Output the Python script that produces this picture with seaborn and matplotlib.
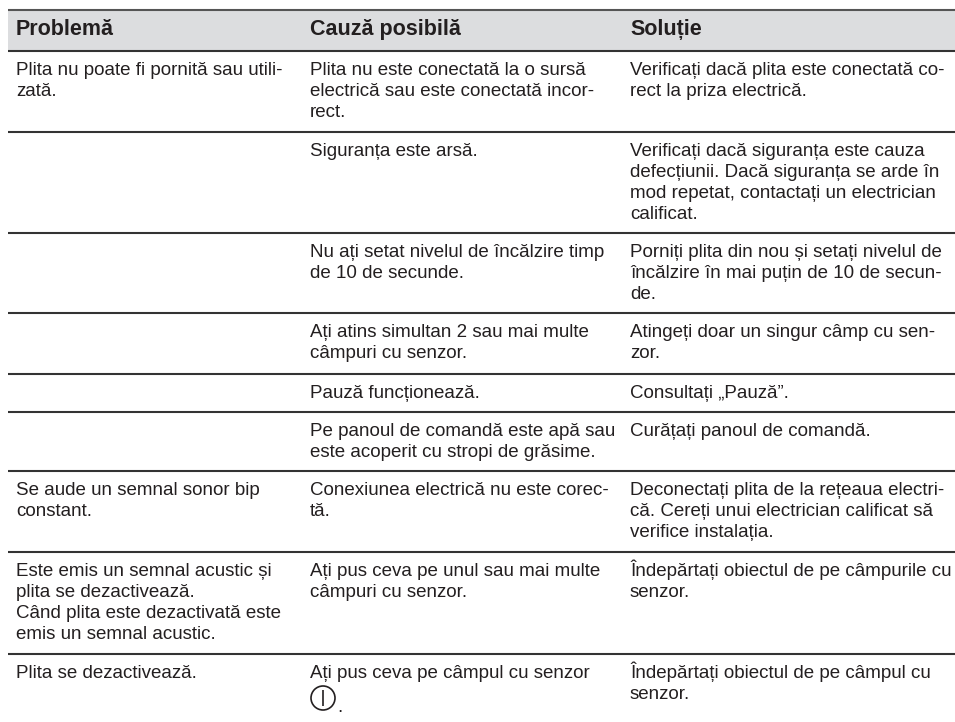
"""Tabel depanare plita"""
import matplotlib.pyplot as plt
from matplotlib.patches import Circle
import seaborn as sns

headers = ["Problemă", "Cauză posibilă", "Soluție"]

problems = [
    ["Plita nu poate fi pornită sau utili-", "zată."],
    [],
    [],
    [],
    [],
    [],
    ["Se aude un semnal sonor bip", "constant."],
    [
        "Este emis un semnal acustic și",
        "plita se dezactivează.",
        "Când plita este dezactivată este",
        "emis un semnal acustic.",
    ],
    ["Plita se dezactivează."],
]
causes = [
    ["Plita nu este conectată la o sursă", "electrică sau este conectată incor-", "rect."],
    ["Siguranța este arsă."],
    ["Nu ați setat nivelul de încălzire timp", "de 10 de secunde."],
    ["Ați atins simultan 2 sau mai multe", "câmpuri cu senzor."],
    ["Pauză funcționează."],
    ["Pe panoul de comandă este apă sau", "este acoperit cu stropi de grăsime."],
    ["Conexiunea electrică nu este corec-", "tă."],
    ["Ați pus ceva pe unul sau mai multe", "câmpuri cu senzor."],
    ["Ați pus ceva pe câmpul cu senzor"],
]
solutions = [
    ["Verificați dacă plita este conectată co-", "rect la priza electrică."],
    [
        "Verificați dacă siguranța este cauza",
        "defecțiunii. Dacă siguranța se arde în",
        "mod repetat, contactați un electrician",
        "calificat.",
    ],
    ["Porniți plita din nou și setați nivelul de", "încălzire în mai puțin de 10 de secun-", "de."],
    ["Atingeți doar un singur câmp cu sen-", "zor."],
    ["Consultați „Pauză”."],
    ["Curățați panoul de comandă."],
    [
        "Deconectați plita de la rețeaua electri-",
        "că. Cereți unui electrician calificat să",
        "verifice instalația.",
    ],
    ["Îndepărtați obiectul de pe câmpurile cu", "senzor."],
    ["Îndepărtați obiectul de pe câmpul cu", "senzor."],
]

sns.set_theme(style="white")
plt.rcParams["font.family"] = ["Liberation Sans", "DejaVu Sans"]

INK = "#231f20"
RULE = "#333333"
BAND = "#dcdddf"
FONT_PT = 13.5
LINE_H = 21

# poziții în pixeli ale imaginii
col_x = [16, 310, 630]
row_tops = [51, 132, 233, 313, 374, 412, 471, 552, 654]

fig, ax = plt.subplots(figsize=(9.55, 7.22), dpi=100)
fig.subplots_adjust(left=0, right=1, bottom=0, top=1)
ax.set_xlim(0, 955)
ax.set_ylim(722, 0)
ax.axis("off")
sns.despine(ax=ax, left=True, bottom=True)

ax.fill_between([8, 955], 10, 51, color=BAND, lw=0)
ax.hlines([10], 8, 955, color="#555555", lw=1.5)
ax.hlines(row_tops, 8, 955, color=RULE, lw=1.5)

for x, header in zip(col_x, headers):
    ax.text(x, 35, header, fontsize=15.5, fontweight="bold", color=INK, va="baseline")

for x, column in zip(col_x, [problems, causes, solutions]):
    for top, lines in zip(row_tops, column):
        for i, line in enumerate(lines):
            ax.text(x, top + 24 + i * LINE_H, line, fontsize=FONT_PT, color=INK, va="baseline")

# simbolul de pornire din ultimul rand
ax.add_patch(Circle((323, 698), 12, fill=False, ec=INK, lw=1.2))
ax.vlines(323, 690, 706, color=INK, lw=1.2)
ax.text(337, 712, ".", fontsize=FONT_PT, color=INK, va="baseline")

fig.savefig("out.png", dpi=100)
